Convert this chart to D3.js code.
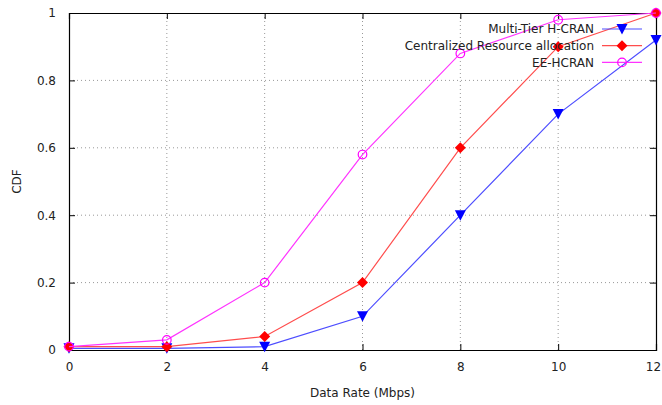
<!DOCTYPE html>
<html><head><meta charset="utf-8">
<script src="https://cdn.jsdelivr.net/npm/d3@7"></script>
<style>
body{margin:0;background:#fff;}
svg{display:block;}
text{font-family:"DejaVu Sans",sans-serif;font-size:12px;fill:#222;}
</style></head>
<body>
<svg id="c" width="662" height="405"></svg>
<script>
const xValues = [0, 2, 4, 6, 8, 10, 12];
const multiTier = [0.005, 0.005, 0.01, 0.1, 0.4, 0.7, 0.92];
const centralized = [0.01, 0.01, 0.04, 0.2, 0.6, 0.9, 1.0];
const eeHcran = [0.01, 0.03, 0.2, 0.58, 0.88, 0.98, 1.0];
const seriesNames = ["Multi-Tier H-CRAN", "Centralized Resource allocation", "EE-HCRAN"];
const xTicks = [0, 2, 4, 6, 8, 10, 12];
const yTicks = [0, 0.2, 0.4, 0.6, 0.8, 1];

const svg = d3.select("#c");
const L = 69, R = 656, T = 13, B = 350;
const x = d3.scaleLinear().domain([0, 12]).range([L, R]);
const y = d3.scaleLinear().domain([0, 1]).range([B, T]);

// grid
const g = svg.append("g");
g.selectAll(".gx").data(xTicks.slice(1, -1)).enter().append("line")
  .attr("x1", d => x(d)).attr("x2", d => x(d)).attr("y1", T).attr("y2", B)
  .attr("stroke", "#999").attr("stroke-width", 1).attr("stroke-dasharray", "1,3");
g.selectAll(".gy").data(yTicks.slice(1, -1)).enter().append("line")
  .attr("y1", d => y(d)).attr("y2", d => y(d)).attr("x1", L).attr("x2", R)
  .attr("stroke", "#999").attr("stroke-width", 1).attr("stroke-dasharray", "1,3");

// axes
const fmt = d => d3.format("")(+d.toFixed(1));
const xb = svg.append("g").attr("transform", `translate(0,${B})`)
  .call(d3.axisBottom(x).tickValues(xTicks).tickSize(-6).tickPadding(12).tickFormat(d3.format("d")));
const xt = svg.append("g").attr("transform", `translate(0,${T})`)
  .call(d3.axisTop(x).tickValues(xTicks).tickSize(-6).tickFormat(""));
const yl = svg.append("g").attr("transform", `translate(${L},0)`)
  .call(d3.axisLeft(y).tickValues(yTicks).tickSize(-6).tickPadding(13).tickFormat(fmt));
const yr = svg.append("g").attr("transform", `translate(${R},0)`)
  .call(d3.axisRight(y).tickValues(yTicks).tickSize(-6).tickFormat(""));
[xb, xt, yl, yr].forEach(a => {
  a.select(".domain").attr("stroke", "#000").attr("stroke-width", 1.2);
  a.selectAll(".tick line").attr("stroke", "#000");
  a.selectAll("text").attr("font-family", "DejaVu Sans").attr("font-size", 12).attr("fill", "#222");
});
xb.selectAll("text").attr("dy", "0.71em");
// keep the last tick label inside the window
xb.selectAll(".tick").filter(d => d === 12).select("text").attr("dx", -3);

// axis titles
svg.append("text").attr("x", x(6)).attr("y", 397).attr("text-anchor", "middle").text("Data Rate (Mbps)");
svg.append("text").attr("transform", `translate(21,${(T + B) / 2}) rotate(-90)`)
  .attr("text-anchor", "middle").text("CDF");

const series = [
  {name: seriesNames[0], vals: multiTier, line: "#4d4dff", mark: "#0000ff", shape: "tri"},
  {name: seriesNames[1], vals: centralized, line: "#ff4d4d", mark: "#ff0000", shape: "dia"},
  {name: seriesNames[2], vals: eeHcran, line: "#ff33ff", mark: "#ff00ff", shape: "circ"}
];

function drawMarker(sel, s, cx, cy) {
  if (s.shape === "tri") {
    sel.append("path").attr("d", `M${cx - 5.5},${cy - 5}L${cx + 5.5},${cy - 5}L${cx},${cy + 5.5}Z`).attr("fill", s.mark);
  } else if (s.shape === "dia") {
    sel.append("path").attr("d", `M${cx},${cy - 5.5}L${cx + 5.5},${cy}L${cx},${cy + 5.5}L${cx - 5.5},${cy}Z`).attr("fill", s.mark);
  } else {
    sel.append("circle").attr("cx", cx).attr("cy", cy).attr("r", 4.3).attr("fill", "none")
      .attr("stroke", s.mark).attr("stroke-width", 1.2);
  }
}

const line = d3.line().x((d, i) => x(xValues[i])).y(d => y(d));
series.forEach(s => {
  svg.append("path").datum(s.vals).attr("d", line).attr("fill", "none")
    .attr("stroke", s.line).attr("stroke-width", 1.2);
  const mg = svg.append("g");
  s.vals.forEach((v, i) => drawMarker(mg, s, x(xValues[i]), y(v)));
});

// legend
series.forEach((s, i) => {
  const ly = 29 + i * 16.7;
  svg.append("text").attr("x", 594).attr("y", ly).attr("dy", "0.35em")
    .attr("text-anchor", "end").text(s.name);
  svg.append("line").attr("x1", 602).attr("x2", 642).attr("y1", ly).attr("y2", ly)
    .attr("stroke", s.line).attr("stroke-width", 1.2);
  drawMarker(svg, s, 622, ly);
});
</script>
</body></html>
